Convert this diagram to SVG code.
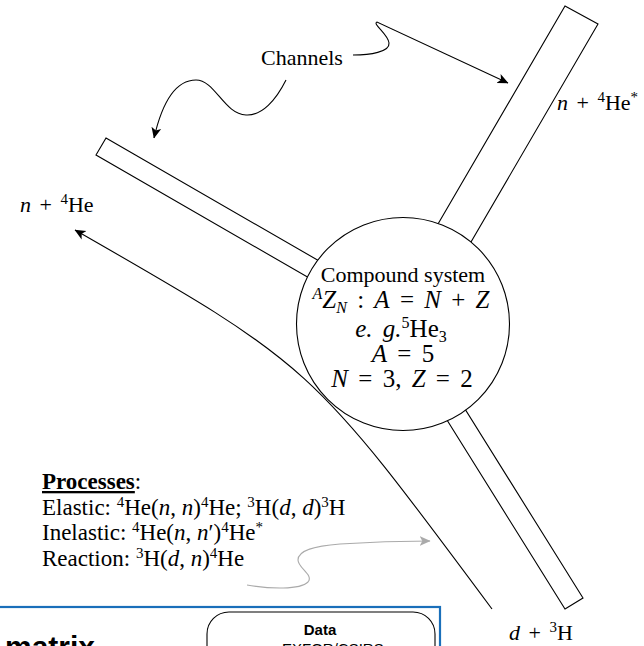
<svg xmlns="http://www.w3.org/2000/svg" width="644" height="646" viewBox="0 0 644 646">
<style>
.ln{fill:none;stroke:#000;stroke-width:1.1}
.gl{fill:none;stroke:#aaa;stroke-width:1.1}
.ch{fill:#fff;stroke:#000;stroke-width:1.1}
.t{font-family:"Liberation Serif","Times New Roman",serif;fill:#000}
.p{font-family:"Liberation Serif","Times New Roman",serif;fill:#000;font-size:23px}
.m{font-family:"Liberation Serif","Times New Roman",serif;fill:#000;font-size:25px;word-spacing:4px}
.i{font-style:italic}
.s{font-family:"Liberation Sans",Arial,sans-serif;fill:#000}
</style>
<defs>
<marker id="ah" viewBox="0 0 10 10" refX="9.5" refY="5" markerWidth="11" markerHeight="11" markerUnits="userSpaceOnUse" orient="auto">
<path d="M0,0.5 L10,5 L0,9.5 L2.5,5 z" fill="#000"/>
</marker>
<marker id="ahg" viewBox="0 0 10 10" refX="9.5" refY="5" markerWidth="11" markerHeight="11" markerUnits="userSpaceOnUse" orient="auto">
<path d="M0,0.5 L10,5 L0,9.5 L2.5,5 z" fill="#aaa"/>
</marker>
</defs>
<rect width="644" height="646" fill="#fff"/>
<g id="channel-left"><polygon class="ch" points="106,138 366,288 356,305 96,155"/></g>
<g id="channel-top-right"><polygon class="ch" points="565,6 598,24 457,266 424,248"/></g>
<g id="channel-bottom-right"><polygon class="ch" points="565,609 583,598 435,361 417,372"/></g>
<g id="compound">
<circle class="ch" cx="403" cy="324" r="106.5"/>
<text class="t" x="403" y="282" font-size="22" text-anchor="middle">Compound system</text>
<text class="m" x="401" y="308" text-anchor="middle"><tspan class="i" font-size="16" dy="-9">A</tspan><tspan class="i" dy="9">Z</tspan><tspan class="i" font-size="16" dy="5">N</tspan><tspan dy="-5"> : </tspan><tspan class="i">A</tspan> = <tspan class="i">N</tspan> + <tspan class="i">Z</tspan></text>
<text class="m" x="401" y="337" text-anchor="middle"><tspan class="i">e. g.</tspan><tspan font-size="16" dy="-9">5</tspan><tspan dy="9">He</tspan><tspan font-size="16" dy="5">3</tspan></text>
<text class="m" x="403" y="362" text-anchor="middle"><tspan class="i">A</tspan> = 5</text>
<text class="m" x="402" y="387" text-anchor="middle"><tspan class="i">N</tspan> = 3, <tspan class="i">Z</tspan> = 2</text>
</g>
<g id="label-n4He"><text class="t" x="20" y="212" font-size="22" word-spacing="3"><tspan class="i">n</tspan> + <tspan font-size="15" dy="-8">4</tspan><tspan dy="8">He</tspan></text></g>
<g id="label-n4Hestar"><text class="t" x="557" y="110" font-size="22" word-spacing="3"><tspan class="i">n</tspan> + <tspan font-size="15" dy="-8">4</tspan><tspan dy="8">He</tspan><tspan font-size="15" dy="-8">*</tspan></text></g>
<g id="label-d3H"><text class="t" x="509" y="640" font-size="22" word-spacing="3"><tspan class="i">d</tspan> + <tspan font-size="15" dy="-8">3</tspan><tspan dy="8">H</tspan></text></g>
<g id="label-channels"><text class="t" x="261" y="65" font-size="22">Channels</text></g>
<g id="processes">
<text class="p" x="42" y="489"><tspan font-weight="bold" text-decoration="underline">Processes</tspan>:</text>
<text class="p" x="42" y="515">Elastic: <tspan font-size="15" dy="-8">4</tspan><tspan dy="8">He(</tspan><tspan class="i">n</tspan>, <tspan class="i">n</tspan>)<tspan font-size="15" dy="-8">4</tspan><tspan dy="8">He; </tspan><tspan font-size="15" dy="-8">3</tspan><tspan dy="8">H(</tspan><tspan class="i">d</tspan>, <tspan class="i">d</tspan>)<tspan font-size="15" dy="-8">3</tspan><tspan dy="8">H</tspan></text>
<text class="p" x="42" y="540">Inelastic: <tspan font-size="15" dy="-8">4</tspan><tspan dy="8">He(</tspan><tspan class="i">n</tspan>, <tspan class="i">n</tspan>′)<tspan font-size="15" dy="-8">4</tspan><tspan dy="8">He</tspan><tspan font-size="15" dy="-8">*</tspan></text>
<text class="p" x="42" y="566">Reaction: <tspan font-size="15" dy="-8">3</tspan><tspan dy="8">H(</tspan><tspan class="i">d</tspan>, <tspan class="i">n</tspan>)<tspan font-size="15" dy="-8">4</tspan><tspan dy="8">He</tspan></text>
</g>
<g id="connectors">
<path class="ln" marker-end="url(#ah)" d="M286,80 C276,100 262,116 246,115 C224,114 215,80 196,80 C172,80 160,112 154,138"/>
<path class="ln" marker-end="url(#ah)" d="M353,55 C370,55 390,52 389,43 C388,34 372,24 377,22 L508,83"/>
<path class="ln" marker-end="url(#ah)" d="M492,609 C311,365 311,365 75,230"/>
<path class="gl" marker-end="url(#ahg)" d="M247,585 C270,589 300,590 308,582 C314,575 298,568 298,560 C298,550 315,546 340,544 C370,542 400,541 430,541"/>
</g>
<g id="rmatrix-panel">
<rect x="-2" y="607" width="442" height="100" fill="none" stroke="#1a6fba" stroke-width="2.2"/>
<text class="s" x="5" y="657" font-size="30" font-weight="bold">matrix</text>
</g>
<g id="data-box">
<rect x="207" y="612" width="228" height="100" rx="22" fill="#fff" stroke="#000" stroke-width="1.1"/>
<text class="s" x="320" y="635" font-size="15" font-weight="bold" text-anchor="middle">Data</text>
<text class="s" x="282" y="654" font-size="15">EXFOR/CSIRS</text>
</g>
</svg>
